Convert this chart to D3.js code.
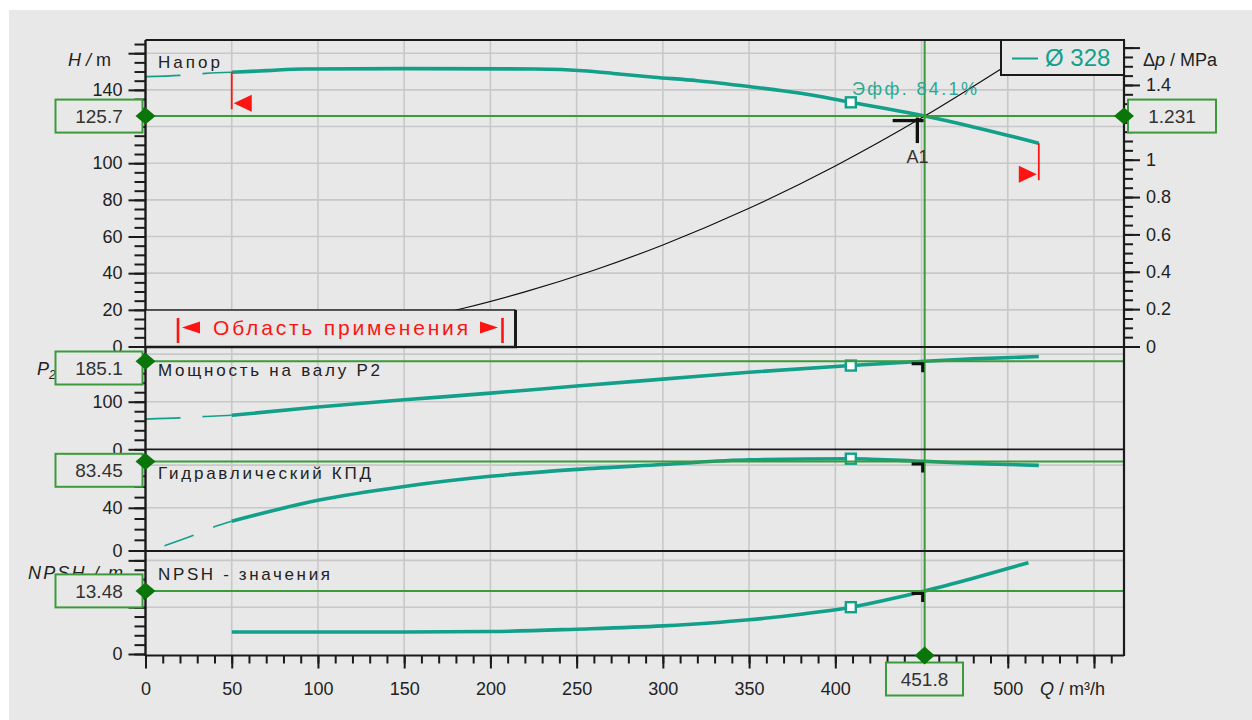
<!DOCTYPE html>
<html>
<head>
<meta charset="utf-8">
<script src="https://cdn.jsdelivr.net/npm/d3@7"></script>
<style>
  html, body { margin: 0; padding: 0; background: #ffffff; }
  svg { display: block; font-family: "Liberation Sans", Arial, sans-serif; }
</style>
</head>
<body>
<svg id="chart" width="1252" height="720"></svg>
<script>
// ---------- pump data (Ø 328 impeller) ----------
// head curve, allowed range and below minimum flow
const flowHead = [50, 70, 92, 150, 226, 256, 274, 295, 320, 350, 380, 409, 430, 451.8, 480, 518];
const head     = [149.6, 150.5, 151.4, 151.6, 151.4, 150.3, 148.7, 146.9, 145, 141.8, 138.1, 133.2, 129.7, 125.7, 119.8, 110.9];
const flowHeadLow = [0, 20, 35, 50];
const headLow     = [147.2, 147.9, 149, 149.6];

// shaft power P2, kW
const flowPower = [50, 100, 150, 200, 250, 300, 350, 409, 451.8, 480, 518];
const power     = [71.5, 89, 104, 118, 133, 147.5, 162, 176, 185.1, 190, 195];
const flowPowerLow = [0, 20, 35, 50];
const powerLow     = [63.5, 66, 69, 71.5];

// hydraulic efficiency, %
const flowEff = [50, 100, 150, 200, 250, 300, 350, 409, 451.8, 489, 518];
const eff     = [27.5, 47, 60, 69.5, 76, 80.5, 85, 86, 83.45, 81.1, 79.7];
const flowEffLow = [11, 29, 42, 50];
const effLow     = [4.5, 15, 23.4, 27.5];

// NPSH required, m
const flowNpsh = [50, 100, 150, 200, 250, 300, 350, 380, 409, 430, 451.8, 480, 512];
const npsh     = [4.7, 4.7, 4.7, 4.8, 5.3, 6.0, 7.3, 8.5, 10, 11.6, 13.48, 16.2, 19.5];

// system curve, m
const flowSystem = [150, 185, 220, 260, 300, 350, 400, 451.8, 497];
const systemHead = [13.9, 21, 29.8, 41.6, 55.4, 75.4, 98.5, 125.7, 152];

// operating point A1 and best efficiency point
const duty = { q: 451.8, head: 125.7, dp: 1.231, power: 185.1, eff: 83.45, npsh: 13.48 };
const bepFlow = 409;
const flowMin = 50, flowMax = 518;

// axis ticks (major ticks, and the labels printed beside them)
const qMajor = [0, 50, 100, 150, 200, 250, 300, 350, 400, 450, 500, 550];
const qLabels = ["0", "50", "100", "150", "200", "250", "300", "350", "400", "", "500", ""];
const headMajor = [0, 20, 40, 60, 80, 100, 120, 140, 160];
const headLabels = [0, 20, 40, 60, 80, 100, 140];
const dpMajor = [0, 0.2, 0.4, 0.6, 0.8, 1, 1.2, 1.4, 1.6];
const dpLabels = [0, 0.2, 0.4, 0.6, 0.8, 1, 1.4];
const powerMajor = [0, 100, 200];
const powerLabels = [0, 100];
const effMajor = [0, 40, 80];
const effLabels = [0, 40];
const npshMajor = [0, 10, 20];
const npshLabels = [0];

// ---------- styling ----------
const BG = "#e8e8e8", TEAL = "#13a08a", GREEN = "#3b9b3b", DKGREEN = "#0a760a",
      GRID = "#c8c8c8", INK = "#222", RED = "#ff1414";

const svg = d3.select("#chart");
svg.append("rect").attr("x", 9).attr("y", 10).attr("width", 1243).attr("height", 710).attr("fill", BG);

const L = 145.5, R = 1124;
const x = d3.scaleLinear().domain([0, 567.4]).range([L, R]);
const yH  = d3.scaleLinear().domain([0, 167.2]).range([346.5, 40]);
const yDp = d3.scaleLinear().domain([0, 1.6407]).range([346.5, 40]);
const yP  = d3.scaleLinear().domain([0, 215]).range([449.3, 347]);
const yE  = d3.scaleLinear().domain([0, 94.8]).range([550.5, 449.3]);
const yN  = d3.scaleLinear().domain([0, 22]).range([654, 551]);

const panels = [
  { y: yH, top: 40,    bottom: 346.5, grid: d3.range(20, 161, 20) },
  { y: yP, top: 347,   bottom: 449.3, grid: [100, 200] },
  { y: yE, top: 449.3, bottom: 551,   grid: [40, 80] },
  { y: yN, top: 551,   bottom: 655,   grid: [10, 20] }
];

// ---------- grid ----------
const grid = svg.append("g").attr("stroke", GRID).attr("stroke-width", 1.6);
qMajor.filter(q => q > 0).forEach(q => {
  grid.append("line").attr("x1", x(q)).attr("x2", x(q)).attr("y1", 40).attr("y2", 655);
});
panels.forEach(p => p.grid.forEach(v => {
  grid.append("line").attr("x1", L).attr("x2", R).attr("y1", p.y(v)).attr("y2", p.y(v));
}));

// ---------- curves ----------
const clip = svg.append("defs").append("clipPath").attr("id", "plotClip");
clip.append("rect").attr("x", L).attr("y", 40).attr("width", R - L).attr("height", 615);
const curves = svg.append("g").attr("clip-path", "url(#plotClip)");

function drawCurve(qs, vs, yScale, width, dash) {
  const line = d3.line()
    .x((d, i) => x(qs[i]))
    .y(d => yScale(d))
    .curve(d3.curveMonotoneX);
  const p = curves.append("path").datum(vs).attr("d", line)
    .attr("fill", "none").attr("stroke", TEAL).attr("stroke-width", width)
    .attr("stroke-linejoin", "round");
  if (dash) p.attr("stroke-dasharray", dash);
}
drawCurve(flowHeadLow, headLow, yH, 1.6, "35 22");
drawCurve(flowHead, head, yH, 3.6);
drawCurve(flowPowerLow, powerLow, yP, 1.6, "35 22");
drawCurve(flowPower, power, yP, 3.6);
drawCurve(flowEffLow, effLow, yE, 1.6, "31 21");
drawCurve(flowEff, eff, yE, 3.6);
drawCurve(flowNpsh, npsh, yN, 3.6);

// system curve
curves.append("path").datum(systemHead)
  .attr("d", d3.line().x((d, i) => x(flowSystem[i])).y(d => yH(d)).curve(d3.curveMonotoneX))
  .attr("fill", "none").attr("stroke", "#111").attr("stroke-width", 1.2);

// best efficiency point markers
[[flowHead, head, yH], [flowPower, power, yP], [flowEff, eff, yE], [flowNpsh, npsh, yN]].forEach(([qs, vs, ys]) => {
  const v = vs[qs.indexOf(bepFlow)];
  svg.append("rect").attr("x", x(bepFlow) - 5).attr("y", ys(v) - 5)
    .attr("width", 10).attr("height", 10)
    .attr("fill", "#ffffff").attr("stroke", TEAL).attr("stroke-width", 2.4);
});

// operating range flags
function flag(q, v, dir) {
  const px = x(q), py = yH(v);
  svg.append("line").attr("x1", px).attr("x2", px).attr("y1", py).attr("y2", py + 37)
    .attr("stroke", RED).attr("stroke-width", 1.8);
  const ty = py + 31;
  const tip = px + 2 * dir, base = px + 20 * dir;
  svg.append("path").attr("d", `M${tip},${ty} L${base},${ty - 8.5} L${base},${ty + 8.5} Z`)
    .attr("fill", RED);
}
flag(flowMin, head[0], 1);
flag(flowMax, head[head.length - 1], -1);

// ---------- operating point crosshair ----------
const dx = x(duty.q);
const crossVals = [[yH, duty.head], [yP, duty.power], [yE, duty.eff], [yN, duty.npsh]];
crossVals.forEach(([ys, v]) => {
  svg.append("line").attr("x1", L).attr("x2", R).attr("y1", ys(v)).attr("y2", ys(v))
    .attr("stroke", GREEN).attr("stroke-width", 2);
});
svg.append("line").attr("x1", dx).attr("x2", dx).attr("y1", 40).attr("y2", 655)
  .attr("stroke", GREEN).attr("stroke-width", 2);

// black operating point ticks
const dyH = yH(duty.head);
svg.append("path").attr("d", `M${dx - 32},${dyH + 4.5} H${dx - 1}`)
  .attr("stroke", "#111").attr("stroke-width", 3.3).attr("fill", "none");
svg.append("path").attr("d", `M${dx - 7.3},${dyH + 1.5} V${dyH + 27}`)
  .attr("stroke", "#111").attr("stroke-width", 3.3).attr("fill", "none");
crossVals.slice(1).forEach(([ys, v]) => {
  const py = ys(v);
  svg.append("path").attr("d", `M${dx - 13},${py + 2.5} H${dx - 2} V${py + 11}`)
    .attr("stroke", "#111").attr("stroke-width", 3).attr("fill", "none");
});

// ---------- frames ----------
const frame = svg.append("g").attr("stroke", "#1a1a1a").attr("fill", "none");
frame.append("line").attr("x1", L).attr("x2", R).attr("y1", 40).attr("y2", 40).attr("stroke-width", 2);
[347, 449.3, 551].forEach(yy => frame.append("line").attr("x1", L).attr("x2", R).attr("y1", yy).attr("y2", yy).attr("stroke-width", 1.8));
frame.append("line").attr("x1", L).attr("x2", R).attr("y1", 655.5).attr("y2", 655.5).attr("stroke-width", 2.2);
frame.append("line").attr("x1", L).attr("x2", L).attr("y1", 40).attr("y2", 656).attr("stroke-width", 2.4);
frame.append("line").attr("x1", R).attr("x2", R).attr("y1", 40).attr("y2", 656).attr("stroke-width", 2.2);

// ---------- axes ----------
function styleAxis(g, size) {
  g.select(".domain").remove();
  g.selectAll("line").attr("stroke", "#1a1a1a").attr("stroke-width", 2);
  g.selectAll("text").attr("fill", INK).attr("font-size", size).attr("font-family", "Liberation Sans, Arial, sans-serif");
}
const fmt = d => (d === 0 ? "0" : String(+d.toFixed(2)));
const labelOf = labels => d => (labels.some(l => Math.abs(l - d) < 1e-9) ? fmt(d) : "");

function leftAxis(ys, minorStep, maxV, majors, labels) {
  svg.append("g").attr("transform", `translate(${L},0)`)
    .call(d3.axisLeft(ys).tickValues(d3.range(0, maxV + 1e-9, minorStep)).tickSize(11).tickFormat(""))
    .call(g => styleAxis(g, 18));
  svg.append("g").attr("transform", `translate(${L},0)`)
    .call(d3.axisLeft(ys).tickValues(majors).tickSize(17).tickPadding(6).tickFormat(labelOf(labels)))
    .call(g => styleAxis(g, 18));
}
leftAxis(yH, 5, 165, headMajor, headLabels);
leftAxis(yP, 20, 200, powerMajor, powerLabels);
leftAxis(yE, 10, 90, effMajor, effLabels);
leftAxis(yN, 2, 20, npshMajor, npshLabels);

// pressure axis on the right
svg.append("g").attr("transform", `translate(${R},0)`)
  .call(d3.axisRight(yDp).tickValues(d3.range(0, 1.6001, 0.05)).tickSize(9).tickFormat(""))
  .call(g => styleAxis(g, 18));
svg.append("g").attr("transform", `translate(${R},0)`)
  .call(d3.axisRight(yDp).tickValues(dpMajor).tickSize(16).tickPadding(6).tickFormat(labelOf(dpLabels)))
  .call(g => styleAxis(g, 18));

// flow axis
svg.append("g").attr("transform", "translate(0,655.5)")
  .call(d3.axisBottom(x).tickValues(d3.range(0, 561, 10)).tickSize(8).tickFormat(""))
  .call(g => styleAxis(g, 18));
svg.append("g").attr("transform", "translate(0,655.5)")
  .call(d3.axisBottom(x).tickValues(qMajor).tickSize(13).tickPadding(14)
    .tickFormat((d, i) => qLabels[i]))
  .call(g => styleAxis(g, 18));

// ---------- axis titles ----------
function title(xp, yp, parts, anchor) {
  const t = svg.append("text").attr("x", xp).attr("y", yp).attr("font-size", 18)
    .attr("fill", INK).attr("text-anchor", anchor || "start");
  parts.forEach(([s, it, sub]) => {
    const ts = t.append("tspan").text(s).attr("font-style", it ? "italic" : "normal");
    if (sub) ts.attr("font-size", 12).attr("dy", 4);
  });
  return t;
}
title(68, 66, [["H", true], [" / ", true], ["m", false]]);
title(1143, 66, [["Δ", false], ["p", true], [" / MPa", false]]);
title(1040, 695, [["Q", true], [" / m³/h", false]]);
title(37, 375, [["P", true], ["2", true, true]]);
title(28, 579, [["NPSH / m", true]]).attr("textLength", 95).attr("lengthAdjust", "spacing");

// panel captions
const captions = [
  ["Напор", 68, 62], ["Мощность на валу P2", 375.5, 222],
  ["Гидравлический КПД", 478.5, 213], ["NPSH  - значения", 580, 172]
];
captions.forEach(([s, yy, w]) => {
  svg.append("text").attr("x", 158).attr("y", yy).text(s)
    .attr("font-size", 17).attr("fill", INK)
    .attr("textLength", w).attr("lengthAdjust", "spacing");
});

// efficiency note
svg.append("text").attr("x", 852).attr("y", 94.5).text("Эфф.  84.1%")
  .attr("font-size", 18).attr("fill", "#2aa892")
  .attr("textLength", 125).attr("lengthAdjust", "spacing");

// operating point name
svg.append("text").attr("x", 906.5).attr("y", 163).text("A1")
  .attr("font-size", 18).attr("fill", "#333")
  .attr("textLength", 22).attr("lengthAdjust", "spacing");

// ---------- application range box ----------
svg.append("rect").attr("x", L).attr("y", 310).attr("width", 515 - L).attr("height", 37)
  .attr("fill", BG).attr("stroke", "#1a1a1a").attr("stroke-width", 1.4);
svg.append("line").attr("x1", 515.5).attr("x2", 515.5).attr("y1", 310).attr("y2", 348)
  .attr("stroke", "#1a1a1a").attr("stroke-width", 3);
svg.append("line").attr("x1", L).attr("x2", 517).attr("y1", 347).attr("y2", 347)
  .attr("stroke", "#1a1a1a").attr("stroke-width", 2.6);
svg.append("line").attr("x1", 178).attr("x2", 178).attr("y1", 318).attr("y2", 343)
  .attr("stroke", RED).attr("stroke-width", 2.6);
svg.append("path").attr("d", "M182,327.5 L200,321.5 L200,333.5 Z").attr("fill", RED);
svg.append("path").attr("d", "M498,327.5 L480,321.5 L480,333.5 Z").attr("fill", RED);
svg.append("line").attr("x1", 502.5).attr("x2", 502.5).attr("y1", 318).attr("y2", 343)
  .attr("stroke", RED).attr("stroke-width", 2.6);
svg.append("text").attr("x", 213).attr("y", 335).text("Область применения")
  .attr("font-size", 21).attr("fill", RED)
  .attr("textLength", 255).attr("lengthAdjust", "spacing");

// ---------- impeller legend ----------
svg.append("rect").attr("x", 1001).attr("y", 40).attr("width", R - 1001).attr("height", 35)
  .attr("fill", BG).attr("stroke", "#1a1a1a").attr("stroke-width", 2);
svg.append("line").attr("x1", 1012).attr("x2", 1038).attr("y1", 58.5).attr("y2", 58.5)
  .attr("stroke", TEAL).attr("stroke-width", 2);
svg.append("text").attr("x", 1045).attr("y", 65.5).text("Ø 328")
  .attr("font-size", 24).attr("fill", TEAL);

// ---------- value boxes and handles ----------
function diamond(cx, cy, hw, hh) {
  svg.append("path").attr("d", `M${cx - hw},${cy} L${cx},${cy - hh} L${cx + hw},${cy} L${cx},${cy + hh} Z`)
    .attr("fill", DKGREEN);
}
function valueBox(bx, by, w, label) {
  svg.append("rect").attr("x", bx).attr("y", by).attr("width", w).attr("height", 33)
    .attr("fill", BG).attr("stroke", GREEN).attr("stroke-width", 2);
  svg.append("text").attr("x", bx + w / 2).attr("y", by + 23.5).text(label)
    .attr("text-anchor", "middle").attr("font-size", 19).attr("fill", "#333");
}
panels.forEach((p, i) => {
  const v = crossVals[i][1];
  const cy = p.y(v);
  const by = Math.max(cy - 16.5, p.top + 4.5);
  valueBox(55.5, by, 87, String(v));
  diamond(L, cy, 10, 8.5);
});
valueBox(1128, yH(duty.head) - 16.5, 88, String(duty.dp));
diamond(R, yH(duty.head), 10, 8.5);
valueBox(886, 662.5, 77, String(duty.q));
diamond(dx, 655.5, 10, 9);
</script>
</body>
</html>
